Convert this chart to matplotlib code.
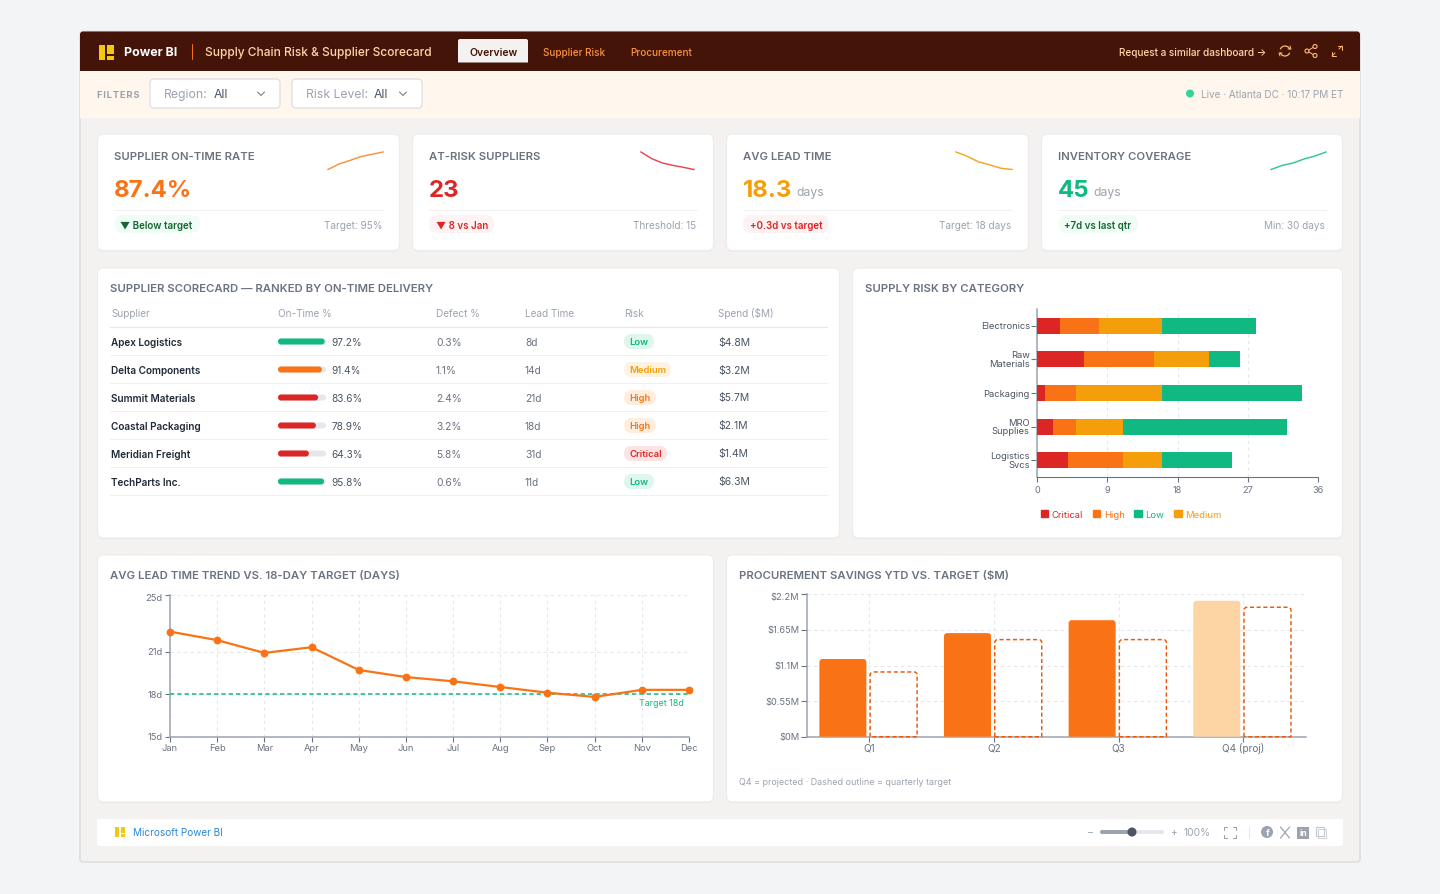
import matplotlib
matplotlib.use("Agg")
import matplotlib.pyplot as plt
from matplotlib.patches import FancyBboxPatch, Rectangle, PathPatch, Circle, Arc, Patch
from matplotlib.path import Path
from matplotlib.transforms import ScaledTranslation

W, H = 1440, 895
DY = 4  # shift of the whole layout against the coordinates below

plt.rcParams["font.family"] = ["Inter", "DejaVu Sans"]

# KPI cards
kpi_titles = ["SUPPLIER ON-TIME RATE", "AT-RISK SUPPLIERS", "AVG LEAD TIME", "INVENTORY COVERAGE"]
kpi_values = ["87.4%", "23", "18.3", "45"]
kpi_units = ["", "", "days", "days"]
kpi_badges = ["▼ Below target", "▼ 8 vs Jan", "+0.3d vs target", "+7d vs last qtr"]
kpi_notes = ["Target: 95%", "Threshold: 15", "Target: 18 days", "Min: 30 days"]
spark_on_time = [82.0, 83.7, 84.8, 86.0, 86.7, 87.4]
spark_at_risk = [31, 28, 26, 24.9, 24, 23]
spark_lead = [22.4, 21.4, 20.1, 19.4, 18.6, 18.3]
spark_inventory = [38, 39.6, 40.6, 42.2, 43.4, 45]

# scorecard table
table_headers = ["Supplier", "On-Time %", "Defect %", "Lead Time", "Risk", "Spend ($M)"]
suppliers = ["Apex Logistics", "Delta Components", "Summit Materials",
             "Coastal Packaging", "Meridian Freight", "TechParts Inc."]
on_time = [97.2, 91.4, 83.6, 78.9, 64.3, 95.8]
defects = ["0.3%", "1.1%", "2.4%", "3.2%", "5.8%", "0.6%"]
lead_times = ["8d", "14d", "21d", "18d", "31d", "11d"]
risks = ["Low", "Medium", "High", "High", "Critical", "Low"]
spends = ["$4.8M", "$3.2M", "$5.7M", "$2.1M", "$1.4M", "$6.3M"]

# risk by category
categories = ["Electronics", "Raw\nMaterials", "Packaging", "MRO\nSupplies", "Logistics\nSvcs"]
critical = [3, 6, 1, 2, 4]
high = [5, 9, 4, 3, 7]
medium = [8, 7, 11, 6, 5]
low = [12, 4, 18, 21, 9]

# lead time trend
months = ["Jan", "Feb", "Mar", "Apr", "May", "Jun", "Jul", "Aug", "Sep", "Oct", "Nov", "Dec"]
lead_trend = [22.4, 21.8, 20.9, 21.3, 19.7, 19.2, 18.9, 18.5, 18.1, 17.8, 18.3, 18.3]
lead_target = [18] * 12

# savings
quarters = ["Q1", "Q2", "Q3", "Q4 (proj)"]
savings = [1.2, 1.6, 1.8, 2.1]
savings_target = [1.0, 1.5, 1.5, 2.0]
savings_ticks = [0, 0.55, 1.1, 1.65, 2.2]
savings_labels = ["$0M", "$0.55M", "$1.1M", "$1.65M", "$2.2M"]

ORANGE = "#f97316"
RED = "#dc2626"
AMBER = "#f59e0b"
GREEN = "#10b981"
GREY = "#6b7280"
LIGHT = "#9ca3af"
DARK = "#1f2937"
GRID = "#e5e7eb"
AXIS = "#9ca3af"
YELLOW = "#f2c811"

RISK_STYLE = {
    "Low": ("#dff6ec", GREEN, 30),
    "Medium": ("#fef3e2", AMBER, 47),
    "High": ("#ffeedd", ORANGE, 32),
    "Critical": ("#fde3e3", RED, 43),
}

fig = plt.figure(figsize=(W / 100, H / 100), dpi=100, facecolor="#f3f4f6")
bg = fig.add_axes([0, 0, 1, 1], zorder=0)
bg.set_xlim(0, W)
bg.set_ylim(H - DY, -DY)
bg.axis("off")


def box(x0, y0, x1, y1, color, r=0, edge="none", lw=0, z=1):
    p = FancyBboxPatch((x0, y0), x1 - x0, y1 - y0, boxstyle=f"round,pad=0,rounding_size={r}",
                       facecolor=color, edgecolor=edge, linewidth=lw, zorder=z)
    bg.add_patch(p)


def card(x0, y0, x1, y1, r=6):
    box(x0 - 0.5, y0 + 2, x1 + 0.5, y1 + 3, "#e7e7e8", r, z=2)
    box(x0 - 0.5, y0 + 1, x1 + 0.5, y1 + 2, "white", r, "#ececee", 0.8, z=3)


def txt(x, y, s, px, color=DARK, weight="normal", ha="left", ax=None, **kw):
    return (ax or bg).text(x, y, s, fontsize=px * 0.72, color=color, fontweight=weight, ha=ha,
                           va="center", zorder=6, **kw)


def line(xs, ys, color, lw=1.0, z=5, **kw):
    bg.plot(xs, ys, color=color, lw=lw * 0.72, zorder=z, solid_capstyle="round", **kw)


def axes_px(left, top, right, bottom):
    a = fig.add_axes([left / W, 1 - (bottom + DY + 1) / H, (right - left) / W, (bottom - top) / H], zorder=2)
    a.patch.set_alpha(0)
    return a


def nudge_labels(a, top_px=None):
    # y labels sit a pixel above the tick, the topmost one a little under it
    labels = a.get_yticklabels()
    for i, lab in enumerate(labels):
        px = 1
        if top_px is not None and i == len(labels) - 1:
            px = top_px
        lab.set_transform(lab.get_transform() + ScaledTranslation(0, px / 100, fig.dpi_scale_trans))


def logo(x, y, s):
    # Power BI mark, s = overall height in px
    bg.add_patch(Rectangle((x, y), s * 0.44, s, color=YELLOW, zorder=6, lw=0))
    bg.add_patch(Rectangle((x + s * 0.56, y), s * 0.44, s * 0.6, color=YELLOW, zorder=6, lw=0))
    bg.add_patch(Rectangle((x + s * 0.56, y + s * 0.72), s * 0.44, s * 0.28, color=YELLOW, zorder=6, lw=0))


def rounded_top(rect, r_x, r_y, **kw):
    # swap a bar for the same bar with rounded top corners
    x, y, w, h = rect.get_x(), rect.get_y(), rect.get_width(), rect.get_height()
    verts = [(x, y), (x, y + h - r_y), (x, y + h), (x + r_x, y + h), (x + w - r_x, y + h),
             (x + w, y + h), (x + w, y + h - r_y), (x + w, y), (x, y)]
    codes = [Path.MOVETO, Path.LINETO, Path.CURVE3, Path.CURVE3, Path.LINETO,
             Path.CURVE3, Path.CURVE3, Path.LINETO, Path.CLOSEPOLY]
    rect.set_visible(False)
    rect.axes.add_patch(PathPatch(Path(verts, codes), **kw))


# page frame
box(80, 28.5, 1360, 859, "#f3f2f1", 3, "#d9dade", 1, z=0.5)
box(80, 28.5, 1360, 76, "#431407", 3, z=1)
bg.add_patch(Rectangle((80, 67.5), 1280, 47, color="#fff7ed", lw=0, zorder=1.2))

# header
logo(98.5, 42, 15)
txt(124, 49, "Power BI", 12.4, "white", "bold")
line([191.5, 191.5], [41, 56], ORANGE)
txt(205, 49, "Supply Chain Risk & Supplier Scorecard", 11.95, "#fed7aa", "medium")
bg.add_patch(PathPatch(Path(
    [(458, 59.5), (458, 38), (458, 36), (460, 36), (526, 36), (528, 36), (528, 38), (528, 59.5), (458, 59.5)],
    [Path.MOVETO, Path.LINETO, Path.CURVE3, Path.CURVE3, Path.LINETO, Path.CURVE3, Path.CURVE3,
     Path.LINETO, Path.CLOSEPOLY]), facecolor="#f3f2f1", edgecolor="none", zorder=4))
txt(493.5, 48.5, "Overview", 10.4, "#431407", "semibold", ha="center")
txt(543, 48.5, "Supplier Risk", 9.9, "#fb923c", "medium")
txt(630, 48.5, "Procurement", 10, "#fb923c", "medium")
txt(1266, 48.5, "Request a similar dashboard →", 10, "#fed7aa", "medium", ha="right")

# header icons
ICON = "#fdba74"
bg.add_patch(Arc((1285, 48), 10, 10, theta1=200, theta2=340, color=ICON, lw=0.9, zorder=6))
bg.add_patch(Arc((1285, 48), 10, 10, theta1=20, theta2=160, color=ICON, lw=0.9, zorder=6))
line([1290, 1291, 1288], [43, 46, 46], ICON)
line([1280, 1279, 1282], [53, 50, 50], ICON)
for cx, cy in [(1307, 48), (1315, 43.5), (1315, 52.5)]:
    bg.add_patch(Circle((cx, cy), 2, facecolor="none", edgecolor=ICON, lw=0.8, zorder=6))
line([1309, 1313], [47, 44.5], ICON)
line([1309, 1313], [49, 51.5], ICON)
line([1332, 1335], [53, 50], ICON)
line([1339, 1342], [46, 43], ICON)
line([1338, 1342, 1342], [43, 43, 47], ICON)
line([1332, 1332, 1336], [49, 53, 53], ICON)

# filter strip
txt(97, 91, "\u200a".join("FILTERS"), 9.4, LIGHT, "bold")
for x0, x1, label, lx, vx, cx in [(150, 280, "Region:", 163.5, 214, 261), (292, 422, "Risk Level:", 305.5, 374, 403)]:
    box(x0, 76, x1, 105, "white", 4, "#d8dbe0", 0.8, z=3)
    txt(lx, 90.5, label, 12.2, LIGHT)
    txt(vx, 90.5, "All", 12.2, "#4b5563")
    line([cx - 3.5, cx, cx + 3.5], [89, 92.5, 89], GREY)
bg.add_patch(Circle((1190, 90.5), 4, color="#34d399", lw=0, zorder=6))
txt(1343, 91, "Live · Atlanta DC · 10:17 PM ET", 10, LIGHT, ha="right")

# KPI row
card_x = [(98, 399), (413, 713), (727, 1028), (1042, 1342)]
kpi_colors = [ORANGE, RED, AMBER, GREEN]
badge_styles = [("#f0fdf4", "#166534", 86), ("#fef2f2", RED, 65), ("#fef2f2", RED, 86), ("#f0fdf4", "#166534", 80)]
spark_data = [spark_on_time, spark_at_risk, spark_lead, spark_inventory]
spark_pos = [(328, 383), (641, 694), (956, 1012), (1271, 1326)]
spark_colors = ["#fb923c", "#e5484d", "#f5a623", "#34c795"]
for i, (x0, x1) in enumerate(card_x):
    card(x0, 130, x1, 245.5)
    tx = x0 + 16
    txt(tx, 152.5, kpi_titles[i], 11.3, GREY, "semibold")
    txt(tx, 186.5, kpi_values[i], 24, kpi_colors[i], "bold")
    if kpi_units[i]:
        ux = {2: 796, 3: 1093}[i]
        txt(ux, 188.5, kpi_units[i], 12.2, LIGHT)
    line([tx, x1 - 16], [206.5, 206.5], "#f0f0f1")
    pill, fg, pw = badge_styles[i]
    box(tx, 212, tx + pw, 230, pill, 9, z=4)
    txt(tx + 6.5, 221.5, kpi_badges[i], 9.8, fg, "semibold")
    txt(x1 - 17, 221.5, kpi_notes[i], 10, LIGHT, ha="right")
    sp = axes_px(spark_pos[i][0], 148, spark_pos[i][1], 165.5)
    sp.plot(range(len(spark_data[i])), spark_data[i], color=spark_colors[i], lw=1.05, clip_on=False)
    sp.set_xlim(0, len(spark_data[i]) - 1)
    sp.set_ylim(min(spark_data[i]), max(spark_data[i]))
    sp.axis("off")

# scorecard table
card(98, 264, 839, 533)
txt(110, 285, "SUPPLIER SCORECARD — RANKED BY ON-TIME DELIVERY", 11.35, GREY, "semibold")
col_x = [111, 278, 436, 525, 624, 718]
for x, h in zip(col_x, table_headers):
    txt(x, 309.5, h, 10, LIGHT)
line([110, 827], [323.5, 323.5], "#e5e7eb", 1.2)
for r, name in enumerate(suppliers):
    y = 338.5 + r * 28
    risk = risks[r]
    pill, fg, pw = RISK_STYLE[risk]
    bar_color = {"Low": GREEN, "Medium": ORANGE, "High": RED, "Critical": RED}[risk]
    txt(col_x[0], y, name, 10, DARK, "semibold")
    box(278, y - 3, 326, y + 3, "#e5e7eb", 3, z=4)
    box(278, y - 3, 278 + on_time[r] * 0.48, y + 3, bar_color, 3, z=5)
    txt(331.5, y, f"{on_time[r]}%", 10, "#4b5563")
    txt(col_x[2], y, defects[r], 10.2, "#6b7280")
    txt(col_x[3], y, lead_times[r], 10.2, "#6b7280")
    box(624, y - 7.5, 624 + pw, y + 7.5, pill, 7.5, z=4)
    txt(629.5, y + 0.3, risk, 9.5, fg, "semibold")
    txt(col_x[5], y, spends[r], 10.4, "#4b5563")
    line([110, 827], [y + 13, y + 13], "#f0f0f1")

# risk by category
card(853, 264, 1342, 533)
txt(865, 285, "SUPPLY RISK BY CATEGORY", 11.35, GREY, "semibold")
ax = axes_px(1037, 305, 1318, 473.3)
ypos = range(len(categories))
left = [0] * len(categories)
for vals, color in [(critical, RED), (high, ORANGE), (medium, AMBER), (low, GREEN)]:
    ax.barh(ypos, vals, left=left, height=0.475, color=color, lw=0, zorder=3)
    left = [a + b for a, b in zip(left, vals)]
ax.set_xlim(0, 36)
ax.set_ylim(4.5, -0.5)
ax.set_xticks([0, 9, 18, 27, 36])
ax.set_yticks(list(ypos), categories)
ax.grid(axis="x", color=GRID, ls=(0, (3, 3)), lw=0.8, zorder=0)
ax.set_axisbelow(True)
for s in ["top", "right"]:
    ax.spines[s].set_visible(False)
ax.spines["left"].set_color(AXIS)
ax.spines["left"].set_linewidth(1.1)
ax.spines["bottom"].set_color(GREY)
ax.spines["bottom"].set_linewidth(0.8)
ax.tick_params(axis="y", length=4.3, width=0.8, color=GREY, labelsize=6.75, labelcolor="#4b5563", pad=0.9)
ax.tick_params(axis="x", length=3.5, width=0.8, color=GREY, labelsize=6.6, labelcolor=GREY, pad=2)
for t in ax.get_yticklabels():
    t.set_linespacing(0.88)
nudge_labels(ax)
handles = [Patch(color=RED), Patch(color=ORANGE), Patch(color=GREEN), Patch(color=AMBER)]
fig.legend(handles, ["Critical", "High", "Low", "Medium"], loc="center", ncol=4,
           bbox_to_anchor=(1131 / W, 1 - 515 / H), frameon=False, fontsize=6.8,
           labelcolor=[RED, ORANGE, GREEN, AMBER], handlelength=0.8, handleheight=0.8,
           handletextpad=0.35, columnspacing=1.05, borderpad=0)

# lead time trend
card(98, 551, 713, 797)
txt(110, 572, "AVG LEAD TIME TREND VS. 18-DAY TARGET (DAYS)", 11.35, GREY, "semibold")
ax2 = axes_px(170, 590.7, 689, 732.7)
ax2.plot(months, lead_target, color=GREEN, lw=1.1, ls=(0, (2.8, 2)), zorder=3, clip_on=False)
ax2.plot(months, lead_trend, color=ORANGE, lw=1.6, marker="o", ms=4.6, zorder=4, clip_on=False)
ax2.set_xlim(0, 11)
ax2.set_ylim(15, 25)
ax2.set_yticks([15, 18, 21, 25], ["15d", "18d", "21d", "25d"])
ax2.grid(color=GRID, ls=(0, (3, 3)), lw=0.8, zorder=0)
ax2.set_axisbelow(True)
for s in ["top", "right"]:
    ax2.spines[s].set_visible(False)
for s in ["left", "bottom"]:
    ax2.spines[s].set_color(AXIS)
    ax2.spines[s].set_linewidth(1.1)
ax2.tick_params(axis="y", length=3.5, width=0.8, color=GREY, labelsize=6.7, labelcolor=GREY, pad=2)
ax2.tick_params(axis="x", length=3.5, width=0.8, color=GREY, labelsize=6.7, labelcolor=GREY, pad=1.3)
nudge_labels(ax2, top_px=-1.5)
ax2.annotate("Target 18d", (11, 18), xytext=(-3.6, -6.3), textcoords="offset points", ha="right", va="center",
             fontsize=6.4, color=GREEN)

# savings
card(727, 551, 1342, 797)
txt(739, 572, "PROCUREMENT SAVINGS YTD VS. TARGET ($M)", 11.35, GREY, "semibold")
ax3 = axes_px(807, 590.3, 1305.5, 732.7)
xq = range(len(quarters))
bw = 47 / 124.6
actual_bars = ax3.bar([i - 0.212 for i in xq], savings, width=bw, zorder=3)
target_bars = ax3.bar([i + 0.195 for i in xq], savings_target, width=bw, zorder=4)
ax3.set_xlim(-0.5, 3.5)
ax3.set_ylim(0, 2.2)
rx, ry = 3 / 124.6, 3 * 2.2 / 142.4
for i, rect in enumerate(actual_bars):
    rounded_top(rect, rx, ry, facecolor="#fdd5a5" if i == 3 else ORANGE, edgecolor="none", zorder=3)
for rect in target_bars:
    rounded_top(rect, rx, ry, facecolor="none", edgecolor="#ea580c", lw=1.05, ls=(0, (2.8, 1.8)),
                zorder=4, clip_on=False)
ax3.set_xticks(list(xq), quarters)
ax3.set_yticks(savings_ticks, savings_labels)
ax3.grid(color=GRID, ls=(0, (3, 3)), lw=0.8, zorder=0)
ax3.set_axisbelow(True)
for s in ["top", "right"]:
    ax3.spines[s].set_visible(False)
for s in ["left", "bottom"]:
    ax3.spines[s].set_color(AXIS)
    ax3.spines[s].set_linewidth(1.1)
ax3.tick_params(axis="y", length=4, width=0.8, color=GREY, labelsize=6.7, labelcolor=GREY, pad=1.6)
ax3.tick_params(axis="x", length=3.5, width=0.8, color=GREY, labelsize=7.2, labelcolor=GREY, pad=0.6)
nudge_labels(ax3, top_px=-1.5)
txt(739, 778.5, "Q4 = projected · Dashed outline = quarterly target", 8.95, LIGHT)

# footer
box(97, 816, 1343, 843, "white", 2, z=2)
logo(115, 824, 10)
txt(133, 829.5, "Microsoft Power BI", 10, "#2b88d8")
txt(1091, 829, "–", 10, LIGHT, ha="center")
box(1100, 827, 1164, 831, "#e5e7eb", 2, z=4)
box(1100, 827, 1132, 831, LIGHT, 2, z=5)
bg.add_patch(Circle((1132, 829), 4.5, color="#4b5563", lw=0, zorder=6))
txt(1173, 829, "+", 10, LIGHT, ha="center")
txt(1197, 829.5, "100%", 10.3, LIGHT, ha="center")
for sx, sy in [(1223.5, 824), (1235.5, 824), (1223.5, 835), (1235.5, 835)]:
    dx = 3 if sx < 1230 else -3
    dy = 3 if sy < 829 else -3
    line([sx + dx, sx, sx], [sy, sy, sy + dy], LIGHT, 1.1)
line([1248.5, 1248.5], [824, 835], "#e5e7eb")
bg.add_patch(Circle((1267, 829), 6, color=LIGHT, lw=0, zorder=6))
txt(1267.5, 830, "f", 9.5, "white", "bold", ha="center")
line([1280.5, 1289.5], [824, 835], LIGHT, 1.2)
line([1289.5, 1280.5], [824, 835], LIGHT, 1.2)
bg.add_patch(Rectangle((1297, 823.5), 12, 12, color=LIGHT, lw=0, zorder=6))
txt(1303, 829.8, "in", 8.5, "white", "bold", ha="center")
bg.add_patch(Rectangle((1318, 826), 7.5, 9, facecolor="white", edgecolor="#d1d5db", lw=0.8, zorder=6))
bg.add_patch(Rectangle((1316, 824), 7.5, 9, facecolor="none", edgecolor="#c4c8ce", lw=0.8, zorder=6))

fig.savefig("out.png", dpi=100, facecolor=fig.get_facecolor())
